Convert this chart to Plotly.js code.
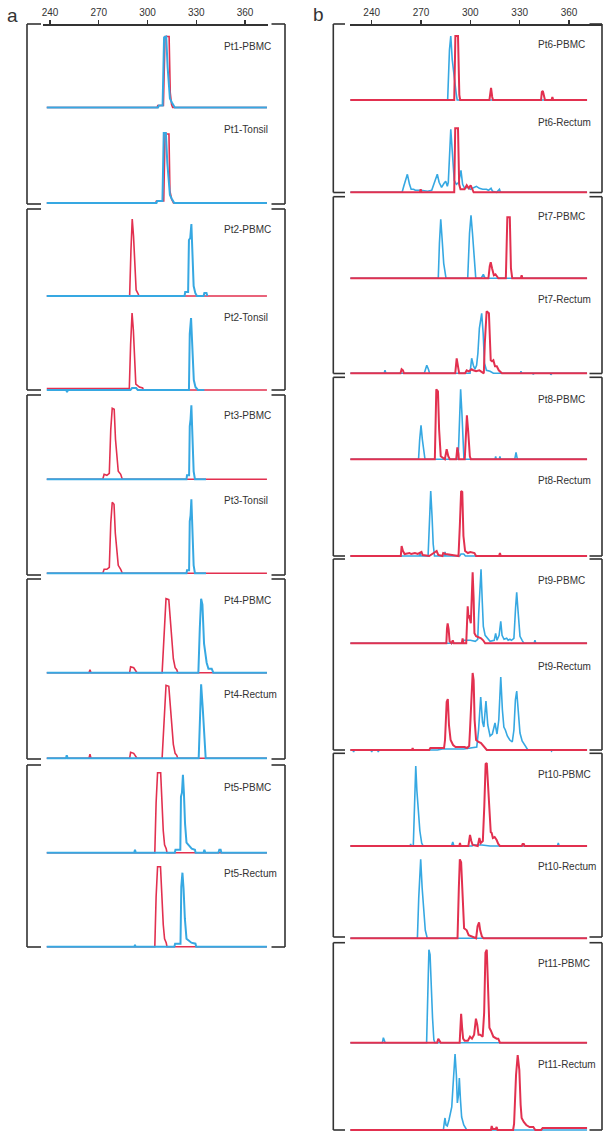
<!DOCTYPE html>
<html><head><meta charset="utf-8">
<script src="https://cdn.plot.ly/plotly-3.0.1.min.js"></script>
<style>html,body{margin:0;padding:0;background:#fff}#chart{width:609px;height:1140px}</style>
</head><body><div id="chart"></div>
<script>
// ---------- tick labels / panel names ----------
const tickValues = [240, 270, 300, 330, 360];
const panelLetters = ["a", "b"];
const sampleNamesA = ["Pt1-PBMC","Pt1-Tonsil","Pt2-PBMC","Pt2-Tonsil","Pt3-PBMC","Pt3-Tonsil","Pt4-PBMC","Pt4-Rectum","Pt5-PBMC","Pt5-Rectum"];
const sampleNamesB = ["Pt6-PBMC","Pt6-Rectum","Pt7-PBMC","Pt7-Rectum","Pt8-PBMC","Pt8-Rectum","Pt9-PBMC","Pt9-Rectum","Pt10-PBMC","Pt10-Rectum","Pt11-PBMC","Pt11-Rectum"];

// ---------- series values: [size, intensity] ----------
// panel a
const pt1PbmcRed = [[238,0],[306,0],[306.3,2],[309.8,2],[310.8,71],[313.3,71],[314,15],[314.8,3],[315.5,0],[373.5,0]];
const pt1PbmcBlue = [[238,0],[306.5,0],[307,2],[309.3,2],[310.2,70],[311.5,71],[312.4,40],[313.8,9],[315,5],[316.8,0],[373.5,0]];
const pt1TonsilRed = [[238,0],[305,0],[305.5,2],[310,2],[310.8,69],[313.2,69],[313.8,12],[314.8,4],[316,0],[373.5,0]];
const pt1TonsilBlue = [[238,0],[305.5,0],[306,2],[309.2,2],[310,70],[311.3,70],[312.2,40],[313.8,8],[315,4],[316.5,0],[373.5,0]];
const pt2PbmcRed = [[238,0],[289,0],[289.8,45],[290.6,77],[291.4,60],[292.2,25],[293,6],[294,3],[294.8,0],[373.5,0]];
const pt2PbmcBlue = [[238,0],[322.8,0],[323.2,4],[325,4],[325.5,56],[326.3,58],[327,72],[327.6,50],[328.4,10],[329.4,3],[330.4,0],[334.5,0],[335,3],[336.3,3],[336.8,0]];
const pt2TonsilRed = [[238,1.5],[288.8,1.5],[289.6,45],[290.5,77],[291.3,60],[292,25],[292.8,6],[295,3],[297,2],[297.5,0],[373.5,0]];
const pt2TonsilBlue = [[238,0],[250,0],[250.5,-2],[251,0],[289.5,0],[290.5,2],[293,2],[294,0],[325.5,0],[326,56],[326.8,72],[327.5,48],[328.5,10],[329.5,3],[331,0],[335,0]];
const pt3PbmcRed = [[238,0],[272.5,0],[273.3,5],[275,4],[276.5,6],[277.4,50],[278.3,71],[279.5,70],[280.3,40],[281.2,18],[282,8],[283.5,5],[284.5,0],[373.5,0]];
const pt3PbmcBlue = [[238,0],[324,0],[324.3,4],[325.6,4],[326,53],[326.5,60],[327,74],[327.6,45],[328.4,8],[329.2,0],[336,0]];
const pt3TonsilRed = [[238,0],[272.5,0],[273.3,4],[275,4],[276.5,6],[277.4,50],[278.3,71],[279.4,69],[280.2,40],[281.2,18],[282,8],[283.5,4],[284.5,0],[373.5,0]];
const pt3TonsilBlue = [[238,0],[324,0],[324.3,3],[325.6,3],[326,52],[326.5,58],[327,74],[327.6,45],[328.4,8],[329.2,0],[336,0]];
const pt4PbmcRed = [[238,0],[264,0],[264.6,3],[265.2,0],[289,0],[289.6,6],[291.5,5],[292.5,3],[293.5,0],[309,0],[310.3,45],[311.4,74],[313.1,73],[314.3,49],[315.9,14],[317,5],[318,3],[318.6,0],[373.5,0]];
const pt4PbmcBlue = [[238,0],[331.3,0],[332.2,45],[333,74],[333.8,68],[334.8,29],[336.4,10],[337.5,4],[339.5,4],[340.5,0],[373.5,0]];
const pt4RectumRed = [[238,0],[264,0],[264.6,4],[265.2,0],[289,0],[289.6,6],[291.5,5],[292.5,3],[293.5,0],[309,0],[310.3,45],[311.4,73],[313.1,72],[314.3,48],[315.9,14],[317,5],[318,3],[318.6,0],[373.5,0]];
const pt4RectumBlue = [[238,0],[249.8,0],[250.3,3],[250.9,0],[331.5,0],[332.3,45],[333,74],[334,50],[335.8,0],[373.5,0]];
const pt5PbmcRed = [[238,0],[304.5,0],[305.3,50],[306.2,80],[308.1,80],[309.1,39],[309.7,22],[310.5,8],[311.5,4],[312,0],[373.5,0]];
const pt5PbmcBlue = [[238,0],[291.8,0],[292.3,3],[292.8,0],[316.8,0],[317.2,3],[320.2,3],[320.6,56],[321.2,60],[321.8,78],[322.4,60],[323.1,29],[324,10],[327.2,4],[329.2,3],[329.6,0],[334.5,0],[335,3],[335.6,0],[343.6,0],[344.2,3],[345,3],[345.5,0],[373.5,0]];
const pt5RectumRed = [[238,0],[304.5,0],[305.3,50],[306.2,80],[308,80],[309,40],[309.7,22],[310.5,8],[311.5,4],[312,0],[373.5,0]];
const pt5RectumBlue = [[238,0],[292,0],[292.3,2],[292.6,0],[316.5,0],[317,3],[320.3,3],[320.8,60],[321.5,74],[322.2,58],[323,28],[324,8],[327,4],[329.5,3],[330,0],[373.5,0]];
// panel b
const pt6PbmcBlue = [[227,0],[286.2,0],[287.3,50],[288.1,64],[289,40],[290,23],[291.5,5],[292,0],[371,0]];
const pt6PbmcRed = [[227,0],[290.2,0],[290.9,64],[292.5,64],[293.3,5],[293.8,0],[311.6,0],[312.1,10],[312.6,12],[313.3,3],[313.8,0],[343,0],[343.5,8],[344.1,9],[344.8,3],[345.4,0],[349.4,0],[349.9,3],[350.4,0],[371,0]];
const pt6RectumBlue = [[227,0],[258.5,0],[259.5,6],[261.7,18],[263,8],[264,3],[265.5,3],[266.5,2],[270,2],[274,1],[276.5,2],[277.7,8],[279.9,18],[281,10],[282.5,5],[284,9],[285,11],[286,6],[286.6,10],[288.1,63],[289.2,30],[290.2,12],[291.5,8],[293,10],[294.3,22],[295.3,8],[296.5,4],[298.3,5],[300,3],[301.5,4],[303.7,6],[305.5,4],[307.5,3],[309.8,3],[311,2],[312.6,4],[313.5,1],[316,0],[317.7,3],[318.3,0],[371,0]];
const pt6RectumRed = [[227,0],[269.3,0],[269.8,3],[270.3,0],[290.2,0],[290.8,64],[292.5,64],[293.2,8],[294,3],[296.5,3],[297.8,7],[299,4],[300.2,7],[301.3,3],[302,0],[371,0]];
const pt7PbmcBlue = [[227,0],[280.5,0],[281.2,35],[282,59],[282.8,40],[283.8,15],[285.2,0],[298.4,0],[299.5,45],[300.4,63],[301.3,45],[302.3,21],[303.3,0],[306.5,0],[307.9,4],[309,0],[371,0]];
const pt7PbmcRed = [[227,0],[311,0],[311.8,12],[312.4,16],[313.2,10],[314.3,3],[315.3,4],[316.4,1],[317,0],[321.6,0],[322.5,61],[324,61],[324.7,10],[325.5,0],[330.7,0],[331.2,3],[331.7,0],[371,0]];
const pt7RectumBlue = [[227,0],[247.6,0],[248.1,3],[248.6,0],[272,0],[273,6],[273.5,8],[274.5,4],[275.2,0],[299.8,0],[300.8,15],[301.8,8],[302.8,4],[303.8,8],[304.6,20],[305.5,45],[306.9,60],[307.8,40],[308.6,10],[309.8,3],[312,2],[314,0],[330.4,0],[330.8,2],[331.2,0],[338,0],[338.3,-1],[338.7,0],[348.6,0],[349,-1.5],[349.5,0],[371,0]];
const pt7RectumRed = [[227,0],[257.5,0],[258.2,4],[259,3],[259.6,0],[290.8,0],[291.7,15],[292.5,4],[293.2,0],[296.8,0],[297.8,3],[299,2],[300.8,4],[301.8,3],[303.5,2],[305.5,3],[308.2,0],[308.8,30],[309.9,62],[311.3,60],[312.4,13],[313.2,12],[314,13],[315,7],[316.1,7],[317.3,3],[319.2,0],[371,0]];
const pt8PbmcBlue = [[227,0],[268.5,0],[269.2,20],[270,34],[270.8,20],[271.4,11],[272.4,0],[292.6,0],[293.4,40],[294.1,70],[294.9,45],[296.1,0],[315,0],[315.4,3],[315.8,0],[317.6,0],[318,3],[318.4,0],[327,0],[327.8,7],[328.6,0],[371,0]];
const pt8PbmcRed = [[227,0],[278.4,0],[279.3,70],[280.3,68],[281,30],[282,3],[284.5,0],[285.6,10],[286.6,3],[287.5,0],[291.4,0],[292.1,12],[292.8,5],[293,0],[296.6,0],[297.4,40],[297.9,44],[298.7,28],[299.7,3],[300.3,0],[371,0]];
const pt8RectumBlue = [[227,0],[269,0],[269.4,3],[269.8,0],[274.3,0],[275.2,40],[275.9,65],[276.7,40],[277.4,12],[278.2,0],[284.2,0],[284.6,4],[285,0],[293.5,0],[294.3,2],[296,2],[297,0],[371,0]];
const pt8RectumRed = [[227,0],[257.7,0],[258.2,10],[259,5],[260,2],[263,3],[264,2],[266.3,3],[268,2],[270.3,4],[271,1],[275,0],[279.5,5],[280.5,1],[283,0],[283.5,3],[285,2],[288,1],[292.8,0],[293.6,30],[294.4,65],[295.1,64],[295.8,20],[296.8,5],[298.5,3],[300,4],[301.5,3],[302.5,3],[303.5,0],[317.5,0],[318,3],[318.5,0],[371,0]];
const pt9PbmcBlue = [[227,0],[295,0],[296,3],[300,3],[303,2],[304.5,4],[305.1,30],[306.5,74],[307.3,40],[307.9,17],[309,8],[310.5,5],[312,2],[314.5,3],[315.4,10],[316.2,3],[317.5,8],[318.5,22],[319.3,8],[320.5,4],[322.1,5],[323,3],[324.1,4],[325,3],[326.5,5],[327.5,35],[328.2,51],[328.9,35],[330.2,7],[331.5,3],[332.6,0],[338.8,0],[339.3,3],[339.8,0],[371,0]];
const pt9PbmcRed = [[227,0],[285.4,0],[285.8,15],[286.2,20],[286.8,14],[287.4,2],[288.5,0],[289.3,3],[289.9,0],[294.8,0],[295.3,5],[295.8,0],[297.5,0],[298.1,30],[298.4,37],[298.9,25],[299.2,28],[300.3,20],[300.9,50],[301.4,71],[302,45],[302.5,10],[303.5,7],[305,6],[306.5,5],[307.8,3],[309,0],[371,0]];
const pt9RectumBlue = [[227,0],[228.6,0],[229,-2],[229.4,0],[239.6,0],[240,-2],[240.4,0],[243.6,0],[244,-2],[244.4,0],[280,0],[283,1],[296,1],[300,2],[303.9,3],[305,20],[306.3,53],[307.4,28],[308.2,23],[309.5,49],[310.6,25],[312,14],[313.4,16],[315,27],[316.2,16],[317.3,30],[318.5,73],[319.5,40],[320.4,23],[321.3,20],[322.5,14],[324,10],[325.5,8],[326.5,20],[327.4,50],[328.2,59],[328.9,45],[330.2,17],[331.5,9],[333,5],[334.3,2],[335,0],[349,0],[349.4,-1],[349.8,0],[371,0]];
const pt9RectumRed = [[227,0],[264.5,0],[264.9,2],[265.3,0],[275,0],[275.7,2],[284,2],[284.6,10],[285.6,48],[286.3,51],[287,25],[288,10],[289.5,5],[291,3],[293,3],[296.5,3],[298,2],[299.3,4],[299.8,20],[300.6,60],[301.4,77],[302,70],[302.6,30],[303.5,10],[305,8],[306.5,7],[308.8,3],[310,0],[371,0]];
const pt10PbmcBlue = [[227,0],[263.4,0],[263.7,2],[264,0],[265.3,0],[266,40],[266.8,80],[267.5,55],[268.4,33],[269.3,15],[270.4,3],[271.3,0],[288.6,0],[289.3,4],[290,0],[301,0],[302,1],[307,1],[312,0],[353,0],[353.5,3],[354,0],[371,0]];
const pt10PbmcRed = [[227,0],[293.3,0],[293.7,3],[294.1,0],[298.8,0],[299.8,11],[300.6,5],[301.4,1],[304.5,0],[305.5,8],[306.3,3],[307.6,5],[308.5,40],[309.3,82],[310,83],[310.8,60],[311.6,25],[312.4,14],[313,13],[313.7,8],[314.8,9],[316,6],[317,2],[318,0],[331.3,0],[331.8,2],[332.5,2],[333,0],[371,0]];
const pt10RectumBlue = [[227,0],[267.8,0],[268.6,40],[269.8,79],[270.7,50],[271.6,25],[272.6,8],[273.8,0],[371,0]];
const pt10RectumRed = [[227,0],[292.2,0],[293,50],[293.6,79],[294.4,76],[295.2,40],[296.2,10],[297.8,8],[299,3],[303.5,0],[304.4,12],[305.3,16],[306,8],[307,2],[308,0],[371,0]];
const pt11PbmcBlue = [[227,0],[246.5,0],[247.1,5],[247.7,2],[248.2,0],[273.4,0],[274,40],[274.8,93],[275.5,88],[276.3,40],[277,25],[277.8,3],[278.5,0],[371,0]];
const pt11PbmcRed = [[227,0],[279.8,0],[280.5,4],[281.3,1],[282,0],[293.5,0],[294,20],[294.4,29],[295,15],[295.6,4],[296.5,2],[298.5,2],[299.8,6],[301,4],[302.3,8],[303.4,24],[304.2,18],[305,8],[306,8],[307.5,6],[308.4,30],[309.2,90],[310,93],[310.8,60],[311.6,15],[312.5,12],[314,6],[316,4],[317,4],[318,0],[371,0]];
const pt11RectumBlue = [[227,0],[283.6,0],[284.2,8],[284.6,12],[285.2,5],[286,4],[287,10],[288.7,23],[289.5,45],[290.7,76],[291.5,55],[292.1,27],[292.8,35],[293.3,52],[294,30],[294.7,13],[296,5],[297.8,0],[371,0]];
const pt11RectumRed = [[227,0],[312.5,0],[313,4],[313.6,1],[315.5,1],[316,3],[316.5,0],[326,0],[326.6,6],[327.8,55],[328.8,75],[329.8,60],[330.6,25],[331.2,12],[332.5,8],[334,5],[336,3],[338.3,3],[339.5,0],[343,0],[344,2],[371,2]];

const seriesA = [
  [pt1PbmcRed, pt1PbmcBlue],[pt1TonsilRed, pt1TonsilBlue],
  [pt2PbmcRed, pt2PbmcBlue],[pt2TonsilRed, pt2TonsilBlue],
  [pt3PbmcRed, pt3PbmcBlue],[pt3TonsilRed, pt3TonsilBlue],
  [pt4PbmcRed, pt4PbmcBlue],[pt4RectumRed, pt4RectumBlue],
  [pt5PbmcRed, pt5PbmcBlue],[pt5RectumRed, pt5RectumBlue]];
const seriesB = [
  [pt6PbmcRed, pt6PbmcBlue],[pt6RectumRed, pt6RectumBlue],
  [pt7PbmcRed, pt7PbmcBlue],[pt7RectumRed, pt7RectumBlue],
  [pt8PbmcRed, pt8PbmcBlue],[pt8RectumRed, pt8RectumBlue],
  [pt9PbmcRed, pt9PbmcBlue],[pt9RectumRed, pt9RectumBlue],
  [pt10PbmcRed, pt10PbmcBlue],[pt10RectumRed, pt10RectumBlue],
  [pt11PbmcRed, pt11PbmcBlue],[pt11RectumRed, pt11RectumBlue]];

// ---------- layout geometry (page pixels) ----------
const W = 609, H = 1140;
const baselinesA = [107.5,203,296,390,479.3,573.3,672.7,758.3,852.7,946.7];
const labelYA = [46,129.5,230,317,415,500,600,694,787,873];
const baselinesB = [100,192.3,278.3,373.3,459.3,556,643.3,750,846,938.3,1042.7,1130];
const labelYB = [44.3,122,216,300,399.3,480,580.7,666,774.3,866.7,963.3,1064];
const boxesA = [[24,204],[209,390],[395,575],[579,759],[765,947]];
const boxesB = [[24,192.5],[196.7,373.5],[377.3,556],[559,750],[753.3,937],[942.7,1130]];
const RED = "#e2304f", BLUE = "#36a8e2", INK = "#333333";
const SPAN = 96;

const px = v => v / W;
const py = v => 1 - v / H;

const traces = [];
const layout = {
  width: W, height: H, margin: {l:0, r:0, t:0, b:0},
  paper_bgcolor: "#fff", plot_bgcolor: "rgba(0,0,0,0)",
  showlegend: false, hovermode: false,
  font: {family: "Liberation Sans, Arial, sans-serif", color: INK, size: 10},
  shapes: [], annotations: []
};
const xCommon = {
  side: "top", anchor: "free", position: py(24), tickvals: tickValues,
  ticks: "outside", ticklen: 4, tickwidth: 1.3, tickcolor: INK,
  showline: true, linecolor: INK, linewidth: 1.6, showgrid: false, zeroline: false,
  tickfont: {size: 10, color: INK, family: "Liberation Sans, Arial, sans-serif"}, fixedrange: true
};
layout.xaxis = Object.assign({}, xCommon, {domain: [px(43), px(268)], range: [240 + (43-50)/1.625, 240 + (268-50)/1.625]});
layout.xaxis2 = Object.assign({}, xCommon, {domain: [px(350), px(602)], range: [240 + (350-371.7)/1.644, 240 + (602-371.7)/1.644]});

let yi = 0;
function addPanels(series, baselines, labelY, names, xname, blueOnTop, labelX) {
  series.forEach((pair, i) => {
    yi++;
    const yname = yi === 1 ? "y" : "y" + yi;
    const key = yi === 1 ? "yaxis" : "yaxis" + yi;
    const b = baselines[i];
    layout[key] = {domain: [py(b + 4), py(b - SPAN)], range: [-4, SPAN], visible: false, anchor: xname, fixedrange: true};
    const red = {type: "scatter", mode: "lines", x: pair[0].map(p => p[0]), y: pair[0].map(p => p[1]),
      xaxis: xname, yaxis: yname, line: {color: RED, width: blueOnTop ? 1.6 : 2.0}, hoverinfo: "skip"};
    const blue = {type: "scatter", mode: "lines", x: pair[1].map(p => p[0]), y: pair[1].map(p => p[1]),
      xaxis: xname, yaxis: yname, line: {color: BLUE, width: blueOnTop ? 2.0 : 1.6}, hoverinfo: "skip"};
    if (blueOnTop) traces.push(red, blue); else traces.push(blue, red);
    layout.annotations.push({text: names[i], xref: "paper", yref: "paper", x: px(labelX), y: py(labelY[i]),
      xanchor: "left", yanchor: "middle", showarrow: false, font: {size: 10, color: INK}});
  });
}
addPanels(seriesA, baselinesA, labelYA, sampleNamesA, "x", true, 221.5);
addPanels(seriesB, baselinesB, labelYB, sampleNamesB, "x2", false, 536);

function seg(x0, y0, x1, y1) {
  layout.shapes.push({type: "line", xref: "paper", yref: "paper", x0: px(x0), y0: py(y0), x1: px(x1), y1: py(y1),
    line: {color: INK, width: 1.6}});
}
function brackets(boxes, xl, xla, xra, xr) {
  boxes.forEach(([t, bt]) => {
    seg(xl, t, xl, bt); seg(xl, t, xla, t); seg(xl, bt, xla, bt);
    seg(xr, t, xr, bt); seg(xra, t, xr, t); seg(xra, bt, xr, bt);
  });
}
brackets(boxesA, 27, 41, 271.5, 285);
brackets(boxesB, 333.3, 345, 589.5, 602);

layout.annotations.push({text: panelLetters[0], xref: "paper", yref: "paper", x: px(12), y: py(15), xanchor: "center", yanchor: "middle", showarrow: false, font: {size: 19, color: INK}});
layout.annotations.push({text: panelLetters[1], xref: "paper", yref: "paper", x: px(318), y: py(14), xanchor: "center", yanchor: "middle", showarrow: false, font: {size: 19, color: INK}});

Plotly.newPlot("chart", traces, layout, {staticPlot: true, displayModeBar: false});
</script></body></html>
